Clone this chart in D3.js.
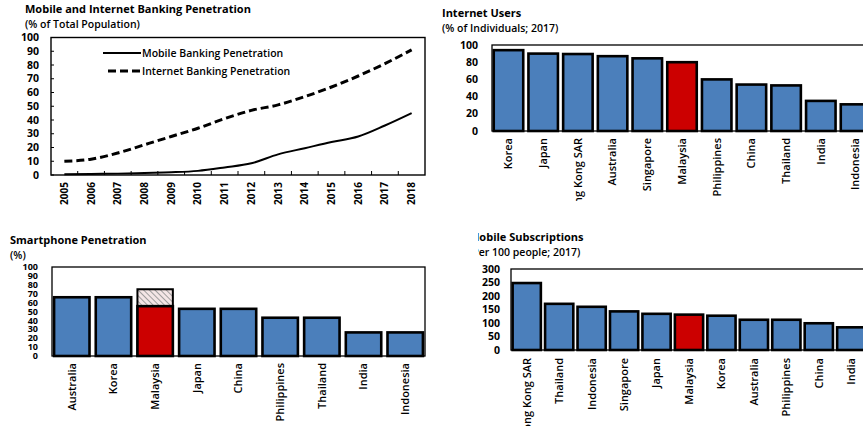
<!DOCTYPE html>
<html>
<head>
<meta charset="utf-8">
<script src="https://cdn.jsdelivr.net/npm/d3@7"></script>
<style>
  body { margin: 0; background: #fff; }
  svg { display: block; font-family: "Open Sans", sans-serif; }
</style>
</head>
<body>
<div id="chart"></div>
<script>
// ------------------- DATA ----------------------
const years = ["2005", "2006", "2007", "2008", "2009", "2010", "2011", "2012", "2013", "2014", "2015", "2016", "2017", "2018"];
const mobileBanking = [0.5, 0.8, 1, 1.5, 2, 3, 5.5, 8.5, 15, 19.5, 24, 28, 36, 45];
const internetBanking = [10, 11.5, 16, 22, 28, 34, 41, 47, 51, 57, 64, 72, 81, 91];
const bankingTicks = [0, 10, 20, 30, 40, 50, 60, 70, 80, 90, 100];

const netCountries = ["Korea", "Japan", "Hong Kong SAR", "Australia", "Singapore", "Malaysia", "Philippines", "China", "Thailand", "India", "Indonesia"];
const netValues = [94, 90, 89.5, 87, 84.5, 80, 60, 54, 53, 35, 31];
const netTicks = [0, 20, 40, 60, 80, 100];

const smartCountries = ["Australia", "Korea", "Malaysia", "Japan", "China", "Philippines", "Thailand", "India", "Indonesia"];
const smartValues = [66, 66, 56, 53, 53, 43, 43, 26.5, 26.5];
const smartHatchTop = [null, null, 75, null, null, null, null, null, null];
const smartTicks = [0, 10, 20, 30, 40, 50, 60, 70, 80, 90, 100];

const subCountries = ["Hong Kong SAR", "Thailand", "Indonesia", "Singapore", "Japan", "Malaysia", "Korea", "Australia", "Philippines", "China", "India"];
const subValues = [248, 171, 160, 143, 134, 131, 127, 112, 112, 99, 84];
const subTicks = [0, 50, 100, 150, 200, 250, 300];

const BLUE = "#4b7fbb";
const RED = "#cc0000";

// ------------------- SVG ----------------------
const svg = d3.select("#chart")
  .append("svg")
  .attr("width", 863)
  .attr("height", 426);

const defs = svg.append("defs");

// hatch for the Malaysia smartphone top
const hatch = defs.append("pattern")
  .attr("id", "hatch")
  .attr("patternUnits", "userSpaceOnUse")
  .attr("width", 4)
  .attr("height", 4)
  .attr("patternTransform", "rotate(-45)");
hatch.append("rect").attr("width", 4).attr("height", 4).attr("fill", "#f4e6e6");
hatch.append("line").attr("x1", 0).attr("y1", 0).attr("x2", 0).attr("y2", 4)
  .attr("stroke", "#8a8a8a").attr("stroke-width", 1.6);

// clip paths used by the cropped panels
defs.append("clipPath").attr("id", "clipTR")
  .append("rect").attr("x", 0).attr("y", 0).attr("width", 863).attr("height", 201);
defs.append("clipPath").attr("id", "clipBR")
  .append("rect").attr("x", 478).attr("y", 0).attr("width", 400).attr("height", 426);

function titles(g, x, y, title, sub) {
  g.append("text").attr("x", x).attr("y", y)
    .style("font-size", "11px").style("font-weight", 700).text(title);
  g.append("text").attr("x", x).attr("y", y + 15)
    .style("font-size", "10.5px").style("font-weight", 600).text(sub);
}

function yLabels(g, y, ticks, xRight, size) {
  g.selectAll(".ylab")
    .data(ticks)
    .enter()
    .append("text")
    .attr("x", xRight)
    .attr("y", d => y(d))
    .attr("dy", "0.35em")
    .attr("text-anchor", "end")
    .style("font-size", size + "px")
    .style("font-weight", 700)
    .text(d => d);
}

// -------------------------- LINE CHART --------------------------
const tl = svg.append("g");
titles(tl, 25, 13, "Mobile and Internet Banking Penetration", "(% of Total Population)");

const x1 = d3.scaleBand().domain(years).range([51, 425]);
const y1 = d3.scaleLinear().domain([0, 100]).range([175, 37.5]);

yLabels(tl, y1, bankingTicks, 39, 10.5);

// inner ticks
tl.selectAll(".yt")
  .data(bankingTicks)
  .enter()
  .append("line")
  .attr("x1", 51).attr("x2", 54)
  .attr("y1", d => y1(d)).attr("y2", d => y1(d))
  .attr("stroke", "#000");
tl.selectAll(".xt")
  .data(years.slice(1))
  .enter()
  .append("line")
  .attr("x1", d => x1(d)).attr("x2", d => x1(d))
  .attr("y1", 175).attr("y2", 171)
  .attr("stroke", "#000");

tl.append("rect")
  .attr("x", 51).attr("y", 37.5)
  .attr("width", 374).attr("height", 137.5)
  .attr("fill", "none").attr("stroke", "#000").attr("stroke-width", 1.4);

const line1 = d3.line()
  .x((d, i) => x1(years[i]) + x1.bandwidth() / 2)
  .y(d => y1(d))
  .curve(d3.curveMonotoneX);

tl.append("path")
  .attr("d", line1(mobileBanking))
  .attr("fill", "none").attr("stroke", "#000").attr("stroke-width", 2);
tl.append("path")
  .attr("d", line1(internetBanking))
  .attr("fill", "none").attr("stroke", "#000").attr("stroke-width", 3)
  .attr("stroke-dasharray", "8,4");

tl.selectAll(".yearlab")
  .data(years)
  .enter()
  .append("text")
  .attr("transform", d => "translate(" + (x1(d) + x1.bandwidth() / 2) + ",182) rotate(-90)")
  .attr("dy", "0.35em")
  .attr("text-anchor", "end")
  .style("font-size", "10px")
  .style("font-weight", 700)
  .text(d => d);

// legend
tl.append("line").attr("x1", 103).attr("x2", 141).attr("y1", 53).attr("y2", 53)
  .attr("stroke", "#000").attr("stroke-width", 2);
tl.append("text").attr("x", 142).attr("y", 53).attr("dy", "0.35em")
  .style("font-size", "10.5px").style("font-weight", 600).text("Mobile Banking Penetration");
tl.append("line").attr("x1", 108).attr("x2", 141).attr("y1", 71).attr("y2", 71)
  .attr("stroke", "#000").attr("stroke-width", 3).attr("stroke-dasharray", "8,4");
tl.append("text").attr("x", 142).attr("y", 71).attr("dy", "0.35em")
  .style("font-size", "10.5px").style("font-weight", 600).text("Internet Banking Penetration");

// -------------------------- BAR CHARTS --------------------------
function barChart(g, opt) {
  const x = d3.scaleBand().domain(opt.cats).range([opt.left, opt.right])
    .paddingInner(opt.pad).paddingOuter(0.05);
  const y = d3.scaleLinear().domain([0, opt.max]).range([opt.bottom, opt.top]);

  yLabels(g, y, opt.ticks, opt.labelX, opt.labelSize);

  g.append("rect")
    .attr("x", opt.left).attr("y", opt.top)
    .attr("width", opt.right - opt.left).attr("height", opt.bottom - opt.top)
    .attr("fill", "none").attr("stroke", "#000").attr("stroke-width", 1.3);

  if (opt.hatch) {
    g.selectAll(".hatch")
      .data(opt.hatch.map((v, i) => ({ v: v, c: opt.cats[i] })).filter(d => d.v !== null))
      .enter()
      .append("rect")
      .attr("x", d => x(d.c))
      .attr("y", d => y(d.v))
      .attr("width", x.bandwidth())
      .attr("height", d => y(0) - y(d.v))
      .attr("fill", "url(#hatch)")
      .attr("stroke", "#000").attr("stroke-width", 2);
  }

  g.selectAll(".bar")
    .data(opt.values)
    .enter()
    .append("rect")
    .attr("x", (d, i) => x(opt.cats[i]))
    .attr("y", d => y(d))
    .attr("width", x.bandwidth())
    .attr("height", d => y(0) - y(d))
    .attr("fill", (d, i) => opt.cats[i] === "Malaysia" ? RED : BLUE)
    .attr("stroke", "#000").attr("stroke-width", 2.6);

  g.selectAll(".clab")
    .data(opt.cats)
    .enter()
    .append("text")
    .attr("transform", d => "translate(" + (x(d) + x.bandwidth() / 2) + "," + opt.labelTop + ") rotate(-90)")
    .attr("dy", "0.35em")
    .attr("text-anchor", "end")
    .style("font-size", "11px")
    .style("font-weight", 600)
    .text(d => d);
}

// Internet users
const tr = svg.append("g").attr("clip-path", "url(#clipTR)");
titles(tr, 442, 17, "Internet Users", "(% of Individuals; 2017)");
barChart(tr, {
  cats: netCountries, values: netValues, ticks: netTicks, max: 100,
  left: 492, right: 872, top: 45, bottom: 131, pad: 0.15,
  labelX: 478, labelSize: 10.5, labelTop: 138
});

// Smartphone penetration
const bl = svg.append("g");
titles(bl, 10, 244, "Smartphone Penetration", "(%)");
barChart(bl, {
  cats: smartCountries, values: smartValues, hatch: smartHatchTop, ticks: smartTicks, max: 100,
  left: 52, right: 425, top: 267, bottom: 356, pad: 0.15,
  labelX: 38, labelSize: 9, labelTop: 363
});

// Mobile subscriptions
const br = svg.append("g").attr("clip-path", "url(#clipBR)");
titles(br, 469, 241, "Mobile Subscriptions", "(Per 100 people; 2017)");
barChart(br, {
  cats: subCountries, values: subValues, ticks: subTicks, max: 300,
  left: 511, right: 867, top: 269, bottom: 350, pad: 0.13,
  labelX: 500, labelSize: 10.5, labelTop: 358
});
</script>
</body>
</html>
